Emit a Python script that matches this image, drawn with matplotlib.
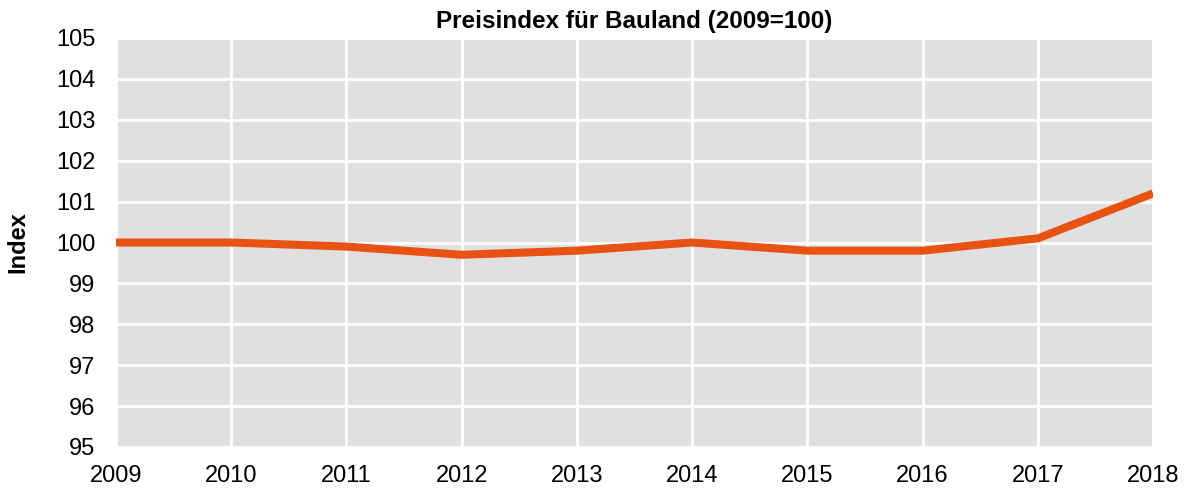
import numpy as np
import matplotlib
matplotlib.use('Agg')
import matplotlib.pyplot as plt

plt.rcParams['font.family'] = ['Liberation Sans', 'DejaVu Sans']

# data
years = [2009, 2010, 2011, 2012, 2013, 2014, 2015, 2016, 2017, 2018]
index_values = [100.0, 100.0, 99.9, 99.7, 99.8, 100.0, 99.8, 99.8, 100.1, 101.2]
y_ticks = [95, 96, 97, 98, 99, 100, 101, 102, 103, 104, 105]

fig = plt.figure(figsize=(11.9, 4.93), dpi=100)
ax = fig.add_axes([116/1190, 1 - 447/493, (1153 - 116)/1190, (447 - 38)/493])
ax.set_facecolor('#e0e0e0')

ax.plot(years, index_values, color='#e85212', linewidth=5.8, solid_capstyle='butt', zorder=3)

ax.set_xlim(years[0], years[-1])
ax.set_ylim(y_ticks[0], y_ticks[-1])
ax.set_xticks(years)
ax.set_yticks(y_ticks)
ax.grid(True, color='white', linewidth=2)
ax.set_axisbelow(True)
for s in ax.spines.values():
    s.set_visible(False)
ax.tick_params(length=0, labelsize=17)
ax.tick_params(axis='y', pad=15)
ax.tick_params(axis='x', pad=13)

ax.set_title('Preisindex für Bauland (2009=100)', fontsize=17.5, fontweight='bold', pad=7)
ax.set_ylabel('Index', fontsize=17, fontweight='bold', labelpad=19)

fig.savefig('out.png', dpi=100)
